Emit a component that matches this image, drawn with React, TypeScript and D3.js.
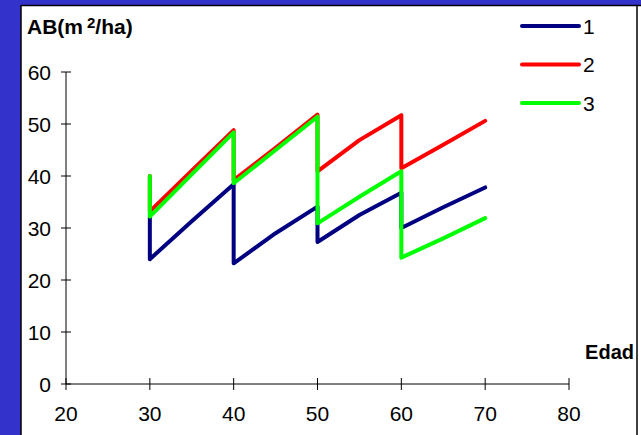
import React from "react";
import * as d3 from "d3";

const ages = [30, 30, 35, 40, 40, 45, 50, 50, 55, 60, 60, 65, 70];
const series1 = [32, 24, 31.3, 38.4, 23.2, 29, 34.1, 27.3, 32.5, 36.8, 30, 34, 37.8];
const series2 = [40, 33.2, 41, 48.8, 39.2, 45.4, 51.8, 40.9, 46.9, 51.7, 41.5, 46, 50.6];
const series3 = [40, 32.2, 40.3, 48.4, 38.6, 45, 51.4, 30.9, 36, 40.9, 24.3, 28, 31.9];
const seriesNames = ["1", "2", "3"];
const seriesColors = ["#000080", "#FF0000", "#00FF00"];
const xTicks = [20, 30, 40, 50, 60, 70, 80];
const yTicks = [0, 10, 20, 30, 40, 50, 60];

export default function App() {
  const W = 641, H = 435;
  const x = d3.scaleLinear().domain([20, 80]).range([66, 569]);
  const y = d3.scaleLinear().domain([0, 60]).range([384, 72]);
  const line = d3
    .line<[number, number]>()
    .x((d) => x(d[0]))
    .y((d) => y(d[1]));
  const all = [series1, series2, series3];
  const font = "Liberation Sans, Arial, sans-serif";
  return (
    <div style={{ position: "fixed", left: 0, top: 0 }}>
      <svg width={W} height={H} style={{ display: "block" }}>
        <rect x={0} y={0} width={W} height={H} fill="#3333CC" />
        <rect x={21} y={5} width={W - 21} height={H} fill="#ffffff" />
        <line x1={21} y1={5} x2={21} y2={H} stroke="#000" strokeWidth={1.5} />
        <line x1={21} y1={5.5} x2={W} y2={5.5} stroke="#000" strokeWidth={1.5} />
        <line x1={637} y1={5} x2={637} y2={H} stroke="#000" strokeWidth={1.5} />

        {/* axes */}
        <line x1={x(20)} y1={y(60)} x2={x(20)} y2={y(0)} stroke="#000" strokeWidth={1} />
        <line x1={x(20)} y1={y(0)} x2={x(80)} y2={y(0)} stroke="#000" strokeWidth={1} />
        {yTicks.map((t) => (
          <g key={"y" + t}>
            <line x1={x(20) - 5} x2={x(20) + 5} y1={y(t)} y2={y(t)} stroke="#000" strokeWidth={1} />
            <text x={x(20) - 15} y={y(t)} dy="0.36em" textAnchor="end" fontFamily={font} fontSize={21} fill="#000">
              {t}
            </text>
          </g>
        ))}
        {xTicks.map((t) => (
          <g key={"x" + t}>
            <line x1={x(t)} x2={x(t)} y1={y(0) - 6} y2={y(0) + 6} stroke="#000" strokeWidth={1} />
            <text x={x(t)} y={y(0) + 37} textAnchor="middle" fontFamily={font} fontSize={21} fill="#000">
              {t}
            </text>
          </g>
        ))}

        {/* series */}
        {all.map((vals, i) => (
          <path
            key={"s" + i}
            d={line(ages.map((a, k) => [a, vals[k]] as [number, number])) || ""}
            fill="none"
            stroke={seriesColors[i]}
            strokeWidth={4}
            strokeLinejoin="round"
            strokeLinecap="round"
          />
        ))}

        {/* titles */}
        <text x={27} y={34} fontFamily={font} fontSize={21} fontWeight="bold" fill="#000">
          AB(m
          <tspan dx={4} dy={-6} fontSize={15}>2</tspan>
          <tspan dy={6}>/ha)</tspan>
        </text>
        <text x={634} y={359} textAnchor="end" fontFamily={font} fontSize={20} fontWeight="bold" fill="#000">
          Edad
        </text>

        {/* legend */}
        {seriesNames.map((n, i) => (
          <g key={"l" + i}>
            <line x1={522} x2={579} y1={26 + i * 38.5} y2={26 + i * 38.5} stroke={seriesColors[i]} strokeWidth={4} strokeLinecap="round" />
            <text x={583} y={26 + i * 38.5} dy="0.36em" fontFamily={font} fontSize={21} fill="#000">
              {n}
            </text>
          </g>
        ))}
      </svg>
    </div>
  );
}
